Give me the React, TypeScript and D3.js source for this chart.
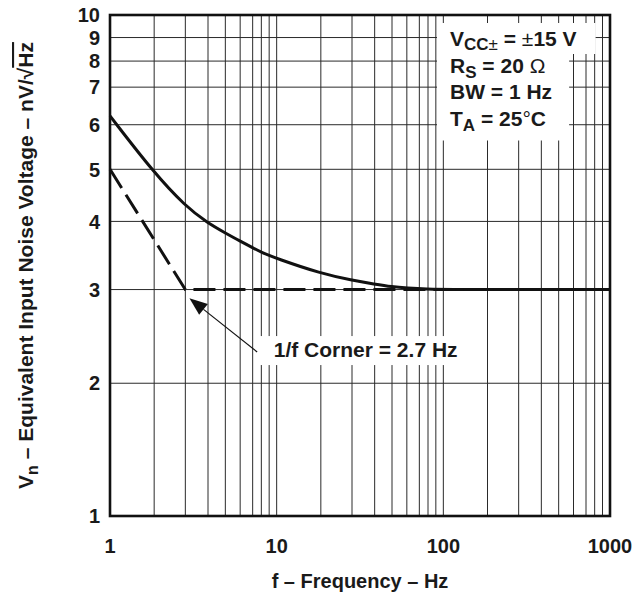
import React, { useEffect, useRef } from 'react';
import * as d3 from 'd3';

// axis labels
const freqLabels = [1, 10, 100, 1000];
const voltLabels = [1, 2, 3, 4, 5, 6, 7, 8, 9, 10];

// measured noise (solid curve)
const noiseFreq = [1, 2, 3, 4, 5, 6, 7, 8, 10, 20, 30, 40, 50, 60, 80, 100, 1000];
const noiseVolt = [6.22, 4.92, 4.27, 3.97, 3.81, 3.68, 3.58, 3.51, 3.42, 3.21, 3.12, 3.07, 3.035, 3.02, 3.005, 3.0, 3.0];

// 1/f asymptotes (dashed)
const cornerFreq = [1, 3, 1000];
const cornerVolt = [5.0, 3.0, 3.0];

// arrow for the corner note, in data units
const noteText = '1/f Corner = 2.7 Hz';
const noteTip = [3.16, 2.89];
const noteTail = [7.5, 2.29];
const noteAt = [9.6, 2.24];

// graph paper spacing of 1..10 inside one decade, as printed
const decadeSpacing = [0, 0.265, 0.452, 0.588, 0.692, 0.781, 0.856, 0.908, 0.955, 1];

const W = 636, H = 595;
const margin = { top: 15, right: 26, bottom: 79, left: 110 };
const width = W - margin.left - margin.right;
const height = H - margin.top - margin.bottom;
const FONT = 'Liberation Sans, Arial, Helvetica, sans-serif';
const INK = '#1a1a1a';

function paperScale(decades: number, start: number, end: number) {
    const domain: number[] = [];
    const range: number[] = [];
    for (let d = 0; d < decades; d++) {
        for (let k = 1; k <= 9; k++) {
            domain.push(k * Math.pow(10, d));
            range.push(start + (end - start) * (d + decadeSpacing[k - 1]) / decades);
        }
    }
    domain.push(Math.pow(10, decades));
    range.push(end);
    return d3.scaleLog().domain(domain).range(range);
}

export default function App() {
    const ref = useRef<SVGSVGElement>(null);

    useEffect(() => {
        const root = d3.select(ref.current);
        root.selectAll('*').remove();

        const x = paperScale(3, 0, width);
        const y = paperScale(1, height, 0);

        const svg = root.append('g')
            .attr('transform', 'translate(' + margin.left + ',' + margin.top + ')')
            .style('font-family', FONT)
            .style('font-weight', 'bold');

        // grid
        svg.append('g').selectAll('line').data(x.domain()).enter().append('line')
            .attr('x1', d => x(d)).attr('x2', d => x(d))
            .attr('y1', 0).attr('y2', height)
            .attr('stroke', '#2a2a2a').attr('stroke-width', 1);
        svg.append('g').selectAll('line').data(y.domain()).enter().append('line')
            .attr('y1', d => y(d)).attr('y2', d => y(d))
            .attr('x1', 0).attr('x2', width)
            .attr('stroke', '#2a2a2a').attr('stroke-width', 1);

        // conditions box
        const cond = svg.append('g').style('font-size', '21px').attr('fill', INK);
        const bgLayer = cond.append('g');
        const lx = 340, ly = 31, step = 26.5;
        const t1 = cond.append('text').attr('x', lx).attr('y', ly);
        t1.append('tspan').text('V');
        t1.append('tspan').attr('dy', 4).style('font-size', '17px').text('CC');
        t1.append('tspan').style('font-size', '17px').style('font-weight', 'normal').text('\u00B1');
        t1.append('tspan').attr('dy', -4).text(' = ');
        t1.append('tspan').style('font-weight', 'normal').text('\u00B1');
        t1.append('tspan').text('15 V');

        const rest = cond.append('g');
        const t2 = rest.append('text').attr('x', lx).attr('y', ly + step);
        t2.append('tspan').text('R');
        t2.append('tspan').attr('dy', 5).style('font-size', '17px').text('S');
        t2.append('tspan').attr('dy', -5).text(' = 20 ');
        t2.append('tspan').style('font-weight', 'normal').text('\u03A9');
        rest.append('text').attr('x', lx).attr('y', ly + step * 2).text('BW = 1 Hz');
        const t4 = rest.append('text').attr('x', lx).attr('y', ly + step * 3);
        t4.append('tspan').text('T');
        t4.append('tspan').attr('dy', 5).style('font-size', '17px').text('A');
        t4.append('tspan').attr('dy', -5).text(' = 25');
        t4.append('tspan').style('font-weight', 'normal').text('\u00B0');
        t4.append('tspan').text('C');

        const b1 = (t1.node() as SVGTextElement).getBBox();
        const b2 = (rest.node() as SVGGElement).getBBox();
        bgLayer.append('rect').attr('x', b1.x - 13).attr('y', b1.y - 4)
            .attr('width', b1.width + 32).attr('height', b1.height + 4).attr('fill', '#fff');
        bgLayer.append('rect').attr('x', b2.x - 13).attr('y', b2.y - 2)
            .attr('width', b2.width + 30).attr('height', b2.height + 8).attr('fill', '#fff');

        // note
        const note = svg.append('g');
        const nt = note.append('text')
            .attr('x', x(noteAt[0])).attr('y', y(noteAt[1]))
            .style('font-size', '21px').attr('fill', INK)
            .text(noteText);
        const nb = (nt.node() as SVGTextElement).getBBox();
        note.insert('rect', 'text').attr('x', nb.x - 16).attr('y', nb.y - 2)
            .attr('width', nb.width + 26).attr('height', nb.height + 6).attr('fill', '#fff');

        const tip = [x(noteTip[0]), y(noteTip[1])];
        const tail = [x(noteTail[0]), y(noteTail[1])];
        const dx = tip[0] - tail[0], dy = tip[1] - tail[1];
        const len = Math.sqrt(dx * dx + dy * dy);
        const ux = dx / len, uy = dy / len;
        const bx = tip[0] - ux * 18, by = tip[1] - uy * 18;
        svg.append('line')
            .attr('x1', tail[0]).attr('y1', tail[1]).attr('x2', bx).attr('y2', by)
            .attr('stroke', '#111').attr('stroke-width', 1.2);
        svg.append('path')
            .attr('d', 'M' + tip[0] + ',' + tip[1] +
                'L' + (bx - uy * 7) + ',' + (by + ux * 7) +
                'L' + (bx + uy * 7) + ',' + (by - ux * 7) + 'Z')
            .attr('fill', '#111');

        // curves
        const line = d3.line<number>()
            .x((d, i) => x(noiseFreq[i]))
            .y(d => y(d))
            .curve(d3.curveBasis);
        svg.append('path').datum(noiseVolt)
            .attr('d', line)
            .attr('fill', 'none').attr('stroke', '#111').attr('stroke-width', 3);

        const dline = d3.line<number>()
            .x((d, i) => x(cornerFreq[i]))
            .y(d => y(d));
        svg.append('path').datum(cornerVolt)
            .attr('d', dline)
            .attr('fill', 'none').attr('stroke', '#111').attr('stroke-width', 3)
            .attr('stroke-dasharray', '22 8');

        // frame
        svg.append('rect').attr('width', width).attr('height', height)
            .attr('fill', 'none').attr('stroke', '#111').attr('stroke-width', 2.6);

        // tick labels
        svg.append('g').selectAll('text').data(freqLabels).enter().append('text')
            .attr('x', d => x(d)).attr('y', height + 37)
            .attr('text-anchor', 'middle').style('font-size', '20px').attr('fill', INK)
            .text(d => d);
        svg.append('g').selectAll('text').data(voltLabels).enter().append('text')
            .attr('x', -10).attr('y', d => y(d)).attr('dy', '0.36em')
            .attr('text-anchor', 'end').style('font-size', '20px').attr('fill', INK)
            .text(d => d);

        // titles
        svg.append('text')
            .attr('x', width / 2).attr('y', height + 72)
            .attr('text-anchor', 'middle').style('font-size', '20px').attr('fill', INK)
            .text('f \u2013 Frequency \u2013 Hz');

        const yt = svg.append('text')
            .attr('transform', 'translate(' + (33 - margin.left) + ',' + (height / 2) + ') rotate(-90)')
            .attr('text-anchor', 'middle').style('font-size', '21px').attr('fill', INK);
        yt.append('tspan').text('V');
        yt.append('tspan').attr('dy', 5).style('font-size', '16px').text('n');
        yt.append('tspan').attr('dy', -5).text(' \u2013 Equivalent Input Noise Voltage \u2013 nV/\u221A');
        yt.append('tspan').style('text-decoration', 'overline').text('Hz');
    }, []);

    return (
        <svg ref={ref} width={W} height={H}
            style={{ position: 'absolute', left: 0, top: 0, background: '#fff' }} />
    );
}
